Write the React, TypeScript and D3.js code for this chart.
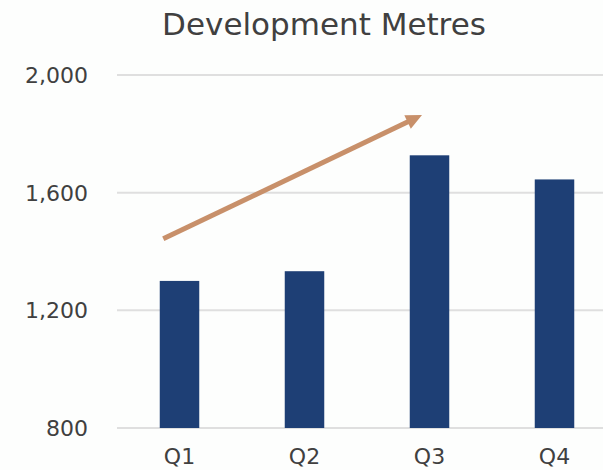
import React from "react";
import * as d3 from "d3";

const categories = ["Q1", "Q2", "Q3", "Q4"];
const values = [1300, 1333, 1727, 1645];
const yTicks = [800, 1200, 1600, 2000];
const title = "Development Metres";
// trend arrow annotation in data units (band index, value)
const arrowFrom = [-0.13, 1443];
const arrowTo = [1.94, 1864];

const W = 603;
const H = 470;
const FONT = "'DejaVu Sans', sans-serif";

export default function App() {
  const x = d3.scaleBand<string>().domain(categories).range([117, 617]).paddingInner(0.684).paddingOuter(0.342);
  const y = d3.scaleLinear().domain([800, 2000]).range([428, 75]);
  const step = x.step();
  const cx = (i: number) => (x(categories[0]) as number) + x.bandwidth() / 2 + i * step;
  const x1 = cx(arrowFrom[0]);
  const y1 = y(arrowFrom[1]);
  const x2 = cx(arrowTo[0]);
  const y2 = y(arrowTo[1]);
  const ang = Math.atan2(y2 - y1, x2 - x1);
  const headLen = 16;
  const headW = 7.5;
  const bx = x2 - headLen * Math.cos(ang);
  const by = y2 - headLen * Math.sin(ang);
  const px = -Math.sin(ang);
  const py = Math.cos(ang);
  const head = `M${x2},${y2}L${bx + px * headW},${by + py * headW}L${bx - px * headW},${by - py * headW}Z`;

  return (
    <svg width={W} height={H} style={{ position: "absolute", left: 0, top: 0, background: "#fdfefd" }}>
      <text x={324} y={35} textAnchor="middle" fontFamily={FONT} fontSize={31} fill="#404040">{title}</text>
      {yTicks.map((t) => (
        <g key={t}>
          <line x1={117} x2={W} y1={y(t)} y2={y(t)} stroke="#dfdfdf" strokeWidth={2} />
          <text x={88} y={y(t) + 8} textAnchor="end" fontFamily={FONT} fontSize={22} fill="#404040">
            {d3.format(",")(t)}
          </text>
        </g>
      ))}
      {categories.map((c, i) => (
        <rect key={c} x={x(c)} y={y(values[i])} width={x.bandwidth()} height={y(800) - y(values[i])} fill="#1e3f75" />
      ))}
      {categories.map((c) => (
        <text key={c} x={(x(c) as number) + x.bandwidth() / 2} y={464} textAnchor="middle" fontFamily={FONT} fontSize={22} fill="#404040">
          {c}
        </text>
      ))}
      <line x1={x1} y1={y1} x2={bx + 1 * Math.cos(ang)} y2={by + 1 * Math.sin(ang)} stroke="#c8906a" strokeWidth={5} />
      <path d={head} fill="#c8906a" />
    </svg>
  );
}
